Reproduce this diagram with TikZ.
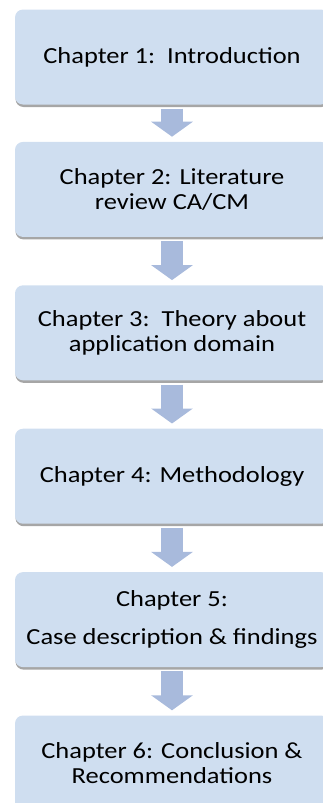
\documentclass[tikz,border=0pt]{standalone}
\usepackage{fontspec}
\setmainfont{Carlito}[FakeStretch=1.15]
\usetikzlibrary{arrows.meta, positioning, shadows}

\definecolor{boxblue}{RGB}{207,222,240}
\definecolor{arrblue}{RGB}{168,186,220}

\begin{document}
\begin{tikzpicture}[
  node distance=48pt,
  chapbox/.style={rectangle, rounded corners=8pt, fill=boxblue,
                  minimum width=314pt, minimum height=95pt, align=center,
                  font=\fontsize{23}{25}\selectfont,
                  drop shadow={shadow xshift=0.5pt, shadow yshift=-2.5pt,
                               fill=black, opacity=0.35}},
  fatarr/.style={-{Triangle[width=41pt, length=15pt]}, line width=22pt,
                 draw=arrblue, shorten <=4pt, shorten >=5pt}
]

\useasboundingbox (0,0) rectangle (323pt,-803pt);
\clip (0,0) rectangle (323pt,-803pt);

\node[chapbox] (ch1) at (172pt,-57pt) {Chapter 1:\ \ Introduction};
\node[chapbox, below=37pt of ch1] (ch2) {Chapter 2: Literature\\review CA/CM};
\node[chapbox, below=of ch2] (ch3) {Chapter 3:\ \ Theory about\\application domain};
\node[chapbox, below=of ch3] (ch4) {Chapter 4: Methodology};
\node[chapbox, below=of ch4] (ch5) {Chapter 5:\\[13pt]Case description \& findings};
\node[chapbox, below=of ch5] (ch6) {Chapter 6: Conclusion \&\\Recommendations};

% flow between chapters
\draw[fatarr] (ch1) -- (ch2);
\draw[fatarr] (ch2) -- (ch3);
\draw[fatarr] (ch3) -- (ch4);
\draw[fatarr] (ch4) -- (ch5);
\draw[fatarr] (ch5) -- (ch6);

\end{tikzpicture}
\end{document}
